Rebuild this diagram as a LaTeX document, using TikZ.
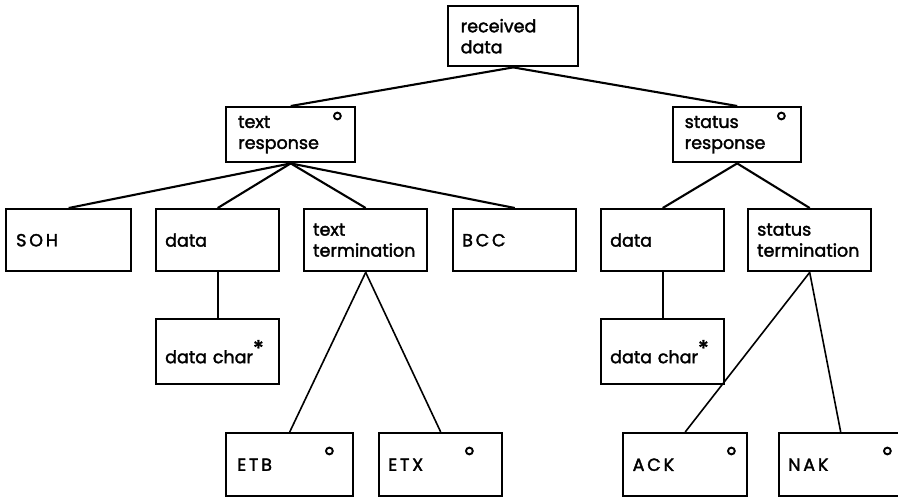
\documentclass[tikz,border=0pt]{standalone}
\usepackage{fontspec}
\setmainfont{Poppins}[FakeBold=2]
\newfontfamily\capsfont{Poppins}[LetterSpace=16,FakeBold=2]
\usetikzlibrary{positioning}
\tikzset{%
	block/.style   = {draw, rectangle, line width=2.4pt, anchor=north west, minimum width=123pt, minimum height=62pt, text width=105pt, inner xsep=9pt, align=left, font=\fontsize{17.5}{21}\selectfont},
	link/.style    = {line width=2.1pt},
	thinlink/.style= {line width=1.6pt},
	optring/.style = {line width=1.9pt},
}
\newcommand{\rep}{\raisebox{7pt}{\fontsize{22}{22}\selectfont *}}

\begin{document}
\begin{tikzpicture}[x=1pt,y=-1pt]
		\useasboundingbox (0,0) rectangle (898,500);
		\node[block, minimum width=130pt, minimum height=60pt] (rcv) at (447,5) {received\\data};
		\node[block, minimum width=129pt, minimum height=55pt] (txtresp) at (225,106) {text\\response};
		\node[block, minimum width=128pt, minimum height=55pt] (statresp) at (672,106) {status\\response};
		\node[block, minimum width=125pt] (soh) at (5,208) {\capsfont SOH};
		\node[block] (data) at (155,208) {data};
		\node[block] (txtterm) at (303,208) {text\\termination};
		\node[block] (bcc) at (452,208) {\capsfont BCC};
		\node[block] (sdata) at (600,208) {data};
		\node[block] (statterm) at (747,208) {status\\termination};
		\node[block, minimum height=65pt] (dchar) at (155,318) {data char\rep};
		\node[block, minimum height=65pt] (sdchar) at (600,318) {data char\rep};
		\node[block, minimum width=127pt, minimum height=63pt] (etb) at (225,432) {\capsfont ETB};
		\node[block, minimum height=63pt] (etx) at (378,432) {\capsfont ETX};
		\node[block, minimum width=124pt, minimum height=63pt] (ack) at (622,432) {\capsfont ACK};
		\node[block, minimum width=119pt, minimum height=63pt] (nak) at (778,432) {\capsfont NAK};
		% optional marks
		\draw[optring] ([shift={(-19pt,-10pt)}]txtresp.north east) circle (3.4pt);
		\draw[optring] ([shift={(-21pt,-10pt)}]statresp.north east) circle (3.4pt);
		\draw[optring] ([shift={(-25pt,-19pt)}]etb.north east) circle (3.4pt);
		\draw[optring] ([shift={(-34pt,-19pt)}]etx.north east) circle (3.4pt);
		\draw[optring] ([shift={(-17pt,-19pt)}]ack.north east) circle (3.4pt);
		\draw[optring] ([shift={(-16pt,-19pt)}]nak.north east) circle (3.4pt);
		% connectors
		\draw[link] (rcv.south) -- (txtresp.north);
		\draw[link] (rcv.south) -- (statresp.north);
		\draw[link] (txtresp.south) -- (soh.north);
		\draw[link] (txtresp.south) -- (data.north);
		\draw[link] (txtresp.south) -- (txtterm.north);
		\draw[link] (txtresp.south) -- (bcc.north);
		\draw[link] (statresp.south) -- (sdata.north);
		\draw[link] (statresp.south) -- (statterm.north);
		\draw[link] (data.south) -- (dchar.north);
		\draw[link] (sdata.south) -- (sdchar.north);
		\draw[thinlink] (txtterm.south) -- (etb.north);
		\draw[thinlink] (txtterm.south) -- (etx.north);
		\draw[thinlink] (statterm.south) -- (ack.north);
		\draw[thinlink] (statterm.south) -- (nak.north);
	\end{tikzpicture}
\end{document}
